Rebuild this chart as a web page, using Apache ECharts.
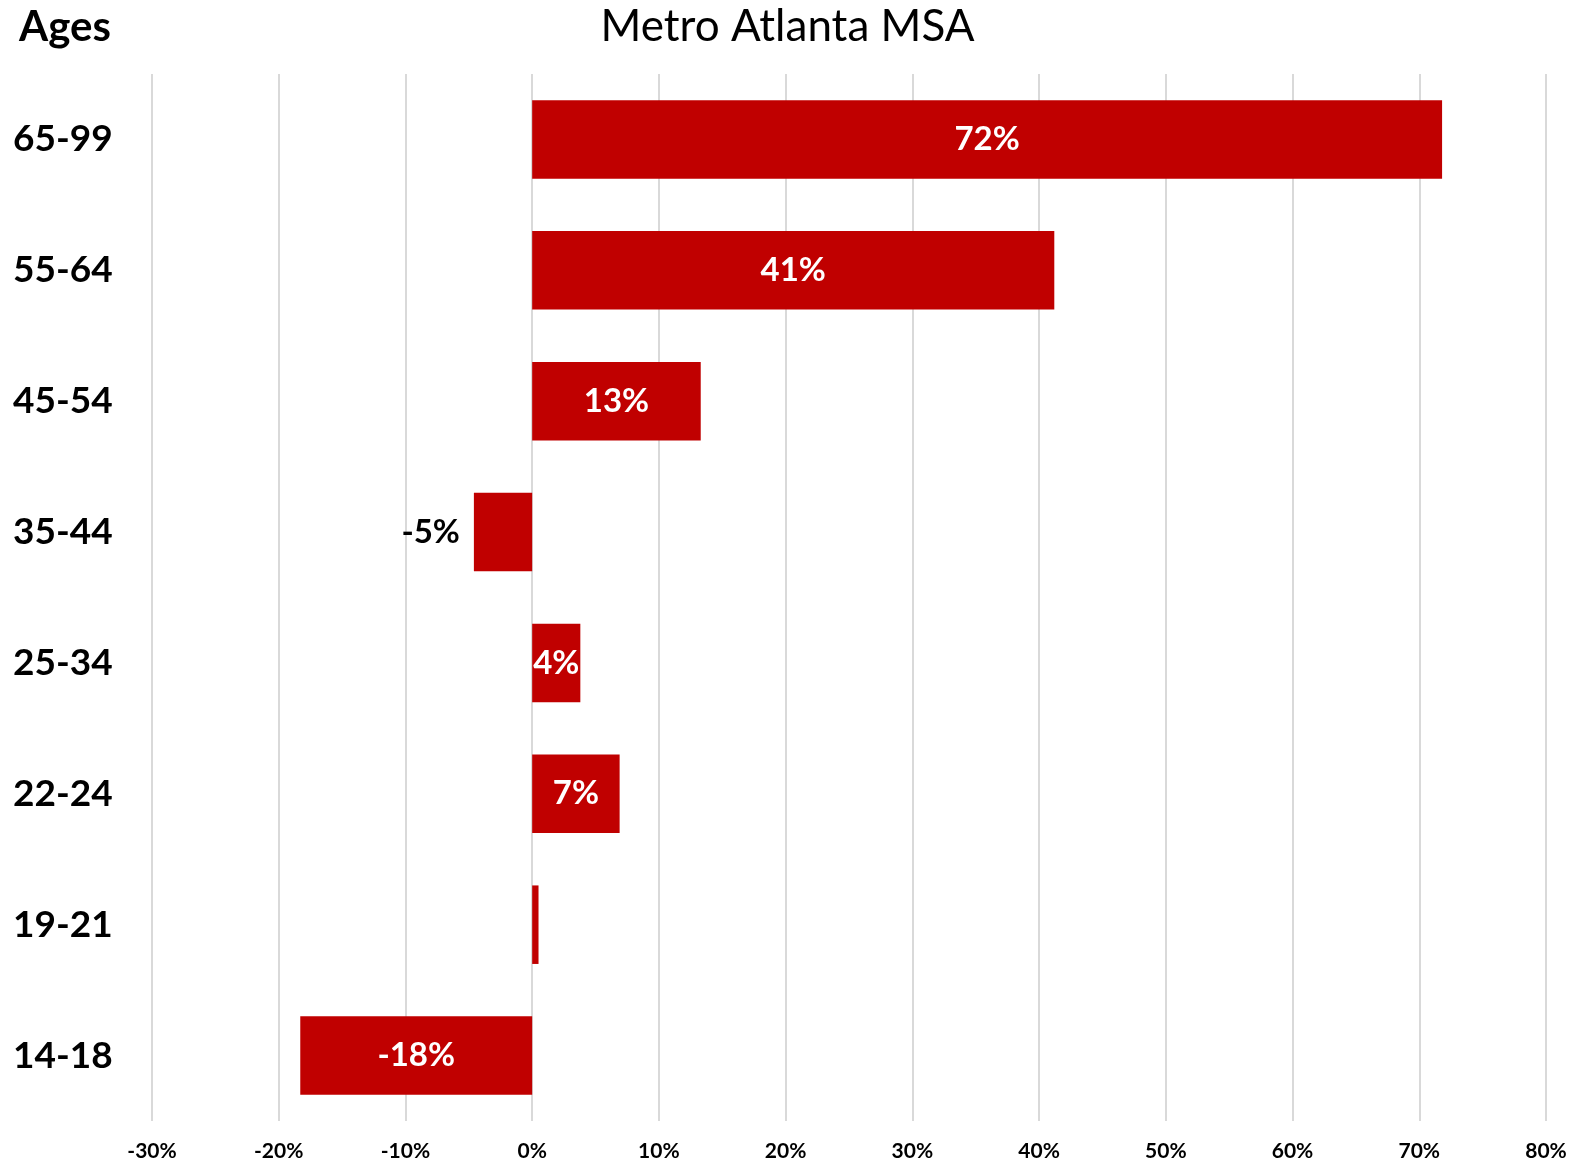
<!DOCTYPE html>
<html>
<head>
<meta charset="utf-8">
<title>Metro Atlanta MSA</title>
<script src="https://cdn.jsdelivr.net/npm/echarts@6/dist/echarts.min.js"></script>
<style>
  html, body { margin: 0; padding: 0; background: #fff; }
  #chartBar { width: 1575px; height: 1164px; }
</style>
</head>
<body>
<div id="chartBar"></div>
<script>
// age groups, bottom to top
var ageGroups = ['14-18', '19-21', '22-24', '25-34', '35-44', '45-54', '55-64', '65-99'];
// percent change
var changeValues = [-18.3, 0.5, 6.9, 3.8, -4.6, 13.3, 41.2, 71.8];
var axisMin = -30;
var axisMax = 80;
var axisStep = 10;

var fontName = 'Lato, "Open Sans", sans-serif';

var container = document.getElementById('chartBar');
var myChart = echarts.init(container);

var barData = changeValues.map(function (v, i) {
    var item = { value: v };
    if (ageGroups[i] === '19-21') {
        item.label = { show: false };
    }
    if (ageGroups[i] === '35-44') {
        item.label = { position: 'left', color: '#000', distance: 14 };
    }
    return item;
});

var option = {
    backgroundColor: '#fff',
    title: [{
        text: 'Metro Atlanta MSA',
        left: 'center',
        top: 0,
        textStyle: { color: '#000', fontSize: 44, fontWeight: 'normal', fontFamily: fontName }
    }, {
        text: 'Ages',
        left: 14,
        top: 1,
        textStyle: { color: '#000', fontSize: 42, fontWeight: 'bold', fontFamily: fontName }
    }],
    grid: {
        top: 74,
        bottom: 43,
        left: 152,
        right: 29,
        containLabel: false
    },
    xAxis: {
        type: 'value',
        min: axisMin,
        max: axisMax,
        interval: axisStep,
        axisLine: { show: false },
        axisTick: { show: false },
        axisLabel: {
            margin: 20,
            color: '#000',
            fontSize: 21,
            fontWeight: 'bold',
            fontFamily: fontName,
            formatter: function (v) { return v + '%'; }
        },
        splitLine: {
            show: true,
            lineStyle: { color: '#d9d9d9', width: 2 }
        }
    },
    yAxis: {
        type: 'category',
        data: ageGroups,
        axisLine: { show: false },
        axisTick: { show: false },
        axisLabel: {
            align: 'left',
            margin: 139,
            color: '#000',
            fontSize: 37,
            fontWeight: 'bold',
            fontFamily: fontName
        },
        splitLine: { show: false }
    },
    series: [{
        type: 'bar',
        name: 'Change',
        data: barData,
        barCategoryGap: '40%',
        itemStyle: { color: '#c00000' },
        label: {
            show: true,
            position: 'inside',
            color: '#fff',
            fontSize: 33,
            fontWeight: 'bold',
            fontFamily: fontName,
            formatter: function (p) { return Math.round(p.value) + '%'; }
        }
    }]
};

myChart.setOption(option);
</script>
</body>
</html>
